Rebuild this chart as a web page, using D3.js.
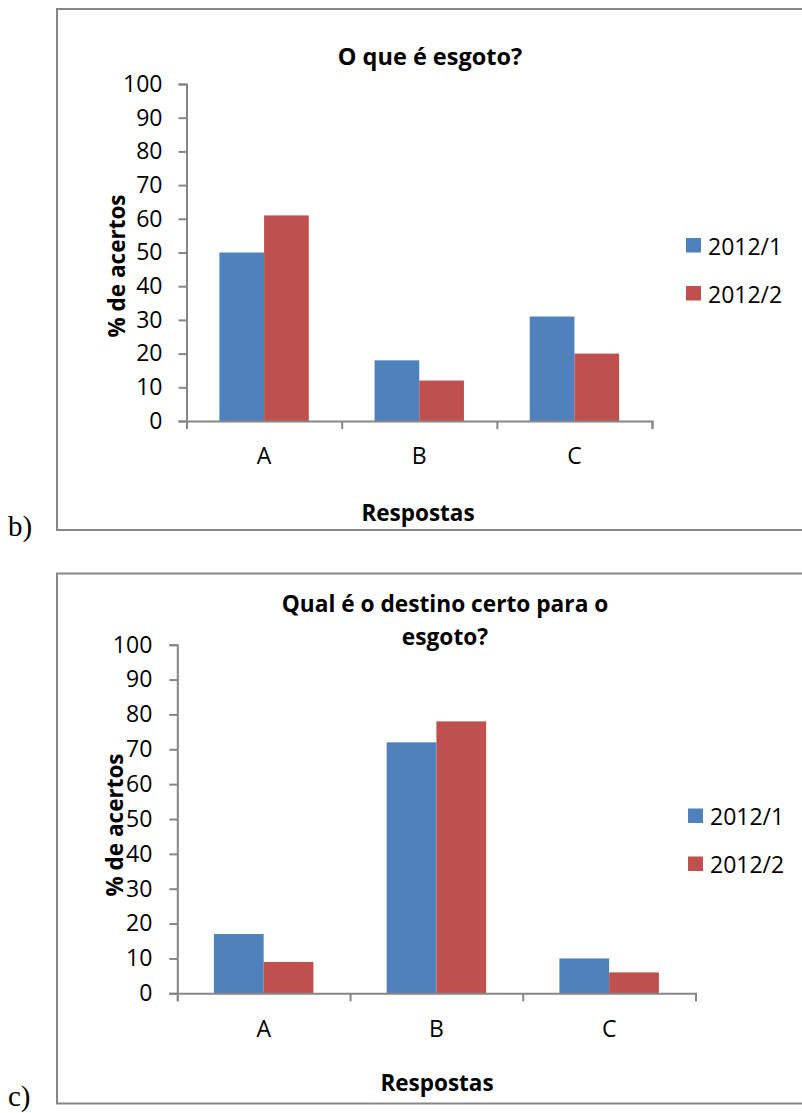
<!DOCTYPE html>
<html>
<head>
<meta charset="utf-8">
<script src="https://cdn.jsdelivr.net/npm/d3@7"></script>
<style>
  body { margin: 0; background: #fff; }
  svg { display: block; }
  text { font-family: "Open Sans", sans-serif; fill: #000; }
</style>
</head>
<body>
<div id="chart"></div>
<script>
// Data
var categories = ['A', 'B', 'C'];
var seriesNames = ['2012/1', '2012/2'];
var yTicks = [0, 10, 20, 30, 40, 50, 60, 70, 80, 90, 100];

// b) O que é esgoto?
var esgoto1 = [50, 18, 31];
var esgoto2 = [61, 12, 20];

// c) Qual é o destino certo para o esgoto?
var destino1 = [17, 72, 10];
var destino2 = [9, 78, 6];

var colors = ['#4F81BD', '#C0504D'];
var axisColor = '#868686';

var svgWidth = 802, svgHeight = 1113;

var svg = d3.select('#chart').append('svg')
    .attr('width', svgWidth)
    .attr('height', svgHeight);

function drawChart(opt) {
    var g = svg.append('g');

    // frame (runs off the right edge like the original)
    g.append('rect')
        .attr('x', 57).attr('y', opt.boxTop)
        .attr('width', 800).attr('height', opt.boxBottom - opt.boxTop)
        .attr('fill', 'none')
        .attr('stroke', axisColor)
        .attr('stroke-width', 2);

    // panel letter
    g.append('text')
        .attr('x', 8).attr('y', opt.letterY)
        .style('font-family', '"Liberation Serif", serif')
        .style('font-size', '29px')
        .text(opt.letter);

    var y = d3.scaleLinear().domain([0, 100]).range([opt.y0, opt.y100]);
    var x = d3.scaleBand().domain(categories).range([opt.x0, opt.x1])
        .paddingInner(0.424).paddingOuter(0.212);
    var xs = d3.scaleBand().domain(seriesNames).range([0, x.bandwidth()]);

    // bars
    var groups = g.selectAll('.cat')
        .data(categories)
        .enter().append('g')
        .attr('transform', function(d) { return 'translate(' + x(d) + ',0)'; });

    groups.selectAll('rect')
        .data(function(d, i) {
            return seriesNames.map(function(s, j) { return { s: s, v: opt.values[j][i], j: j }; });
        })
        .enter().append('rect')
        .attr('x', function(d) { return xs(d.s); })
        .attr('y', function(d) { return y(d.v); })
        .attr('width', xs.bandwidth())
        .attr('height', function(d) { return y(0) - y(d.v); })
        .attr('fill', function(d) { return colors[d.j]; });

    // y axis
    var yAxis = g.append('g')
        .attr('transform', 'translate(' + opt.x0 + ',0)')
        .call(d3.axisLeft(y).tickValues(yTicks).tickSize(8).tickPadding(opt.yPad));
    yAxis.selectAll('text').style('font-size', '23px').style('font-family', '"Open Sans", sans-serif');

    // x axis: boundary ticks
    var bounds = d3.scaleLinear().domain([0, categories.length]).range([opt.x0, opt.x1]);
    g.append('g')
        .attr('transform', 'translate(0,' + opt.y0 + ')')
        .call(d3.axisBottom(bounds).ticks(categories.length).tickSize(8).tickFormat(''));
    // x axis: category labels
    var xLab = g.append('g')
        .attr('transform', 'translate(0,' + opt.y0 + ')')
        .call(d3.axisBottom(x).tickSize(0).tickPadding(27));
    xLab.select('.domain').remove();
    xLab.selectAll('text').style('font-size', '23px').style('font-family', '"Open Sans", sans-serif');

    g.selectAll('.domain, .tick line')
        .attr('stroke', axisColor)
        .attr('stroke-width', 2);
    g.selectAll('.tick text').attr('fill', '#000');

    // title
    var title = g.append('text')
        .attr('text-anchor', 'middle')
        .style('font-size', opt.titleSize)
        .style('font-weight', 'bold');
    opt.title.forEach(function(line, i) {
        title.append('tspan')
            .attr('x', opt.titleX)
            .attr('y', opt.titleY + i * 33)
            .text(line);
    });

    // axis titles
    g.append('text')
        .attr('transform', 'translate(' + opt.yLabX + ',' + opt.yLabY + ') rotate(-90)')
        .attr('text-anchor', 'middle')
        .style('font-size', '22.5px')
        .style('font-weight', 'bold')
        .text('% de acertos');

    g.append('text')
        .attr('x', opt.xLabX).attr('y', opt.xLabY)
        .attr('text-anchor', 'middle')
        .style('font-size', '22.5px')
        .style('font-weight', 'bold')
        .text('Respostas');

    // legend
    var legendG = g.selectAll('.legend')
        .data(seriesNames)
        .enter().append('g')
        .attr('class', 'legend')
        .attr('transform', function(d, i) {
            return 'translate(' + opt.legX + ',' + (opt.legY + i * 48) + ')';
        });

    legendG.append('rect')
        .attr('width', 15).attr('height', 14.5)
        .attr('fill', function(d, i) { return colors[i]; });

    legendG.append('text')
        .attr('x', 22).attr('y', 16.5)
        .style('font-size', '23px')
        .text(function(d) { return d; });
}

drawChart({
    values: [esgoto1, esgoto2],
    title: ['O que é esgoto?'],
    titleSize: '23.5px',
    letter: 'b)', letterY: 536,
    boxTop: 9, boxBottom: 530,
    x0: 186.5, x1: 652, y0: 421, y100: 84, yPad: 16,
    titleX: 430, titleY: 65,
    yLabX: 125, yLabY: 266,
    xLabX: 418, xLabY: 521,
    legX: 686, legY: 238
});

drawChart({
    values: [destino1, destino2],
    title: ['Qual é o destino certo para o', 'esgoto?'],
    titleSize: '22.7px',
    letter: 'c)', letterY: 1106,
    boxTop: 573.5, boxBottom: 1103.5,
    x0: 177.3, x1: 695.5, y0: 993.3, y100: 644.7, yPad: 17,
    titleX: 445, titleY: 612,
    yLabX: 123, yLabY: 825,
    xLabX: 437, xLabY: 1091,
    legX: 688, legY: 808.5
});
</script>
</body>
</html>
